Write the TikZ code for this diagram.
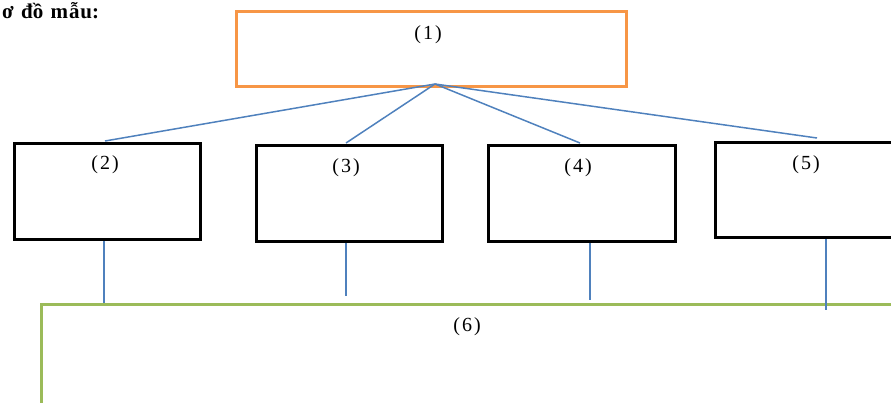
\documentclass[tikz,border=0pt]{standalone}
\usepackage{fontspec}
\setmainfont{Liberation Serif}
\definecolor{boxorange}{HTML}{F79646}
\definecolor{boxgreen}{HTML}{9BBB59}
\definecolor{linkblue}{HTML}{4F81BD}
\newcommand{\plab}[1]{(\hspace{2pt}#1\hspace{2pt})}
\begin{document}
\begin{tikzpicture}[x=1pt,y=-1pt,
  box/.style={draw, line width=3pt, rectangle, inner sep=0pt, anchor=north west},
  lab/.style={font=\fontsize{20}{20}\selectfont, anchor=center, inner sep=0pt},
  link/.style={draw=linkblue, line width=1.5pt}]
\useasboundingbox (0,0) rectangle (891,402);
\clip (0,0) rectangle (891,402);
\node[anchor=base west, inner sep=0pt, font=\bfseries\fontsize{21}{21}\selectfont] (title) at (2,18) {ơ\hspace{2pt} đồ\hspace{2pt} m\hspace{1pt}ẫ\hspace{1pt}u:};
\node[box, draw=boxorange, minimum width=390pt, minimum height=75pt] (n1) at (235,10) {};
\node[box, minimum width=186pt, minimum height=96pt] (n2) at (13,142) {};
\node[box, minimum width=186pt, minimum height=96pt] (n3) at (255,144) {};
\node[box, minimum width=187pt, minimum height=96pt] (n4) at (487,144) {};
\node[box, minimum width=184pt, minimum height=95pt] (n5) at (714,141) {};
\node[box, draw=boxgreen, minimum width=854pt, minimum height=120pt] (n6) at (40,303) {};
\node[lab] (l1) at (428,35) {\plab{1}};
\node[lab] (l2) at (105,165) {\plab{2}};
\node[lab] (l3) at (346,168) {\plab{3}};
\node[lab] (l4) at (578,168) {\plab{4}};
\node[lab] (l5) at (806,165) {\plab{5}};
\node[lab] (l6) at (467,327) {\plab{6}};
\coordinate (apex) at (435,84);
\coordinate (t5) at (817,138);
\coordinate (b3) at (346,296);
\coordinate (b4) at (590,300);
\coordinate (b5) at (826,310);
\draw[link] (apex) -- (105,141) coordinate (t2);
\draw[link] (apex) -- (346,143) coordinate (t3);
\draw[link] (apex) -- (580,143) coordinate (t4);
\draw[link] (apex) -- (t5);
\draw[link] (n2.south -| 104,0) -- (n6.north -| 104,0);
\draw[link] (n3.south -| b3) -- (b3);
\draw[link] (n4.south -| b4) -- (b4);
\draw[link] (n5.south -| b5) -- (b5);
\end{tikzpicture}
\end{document}
